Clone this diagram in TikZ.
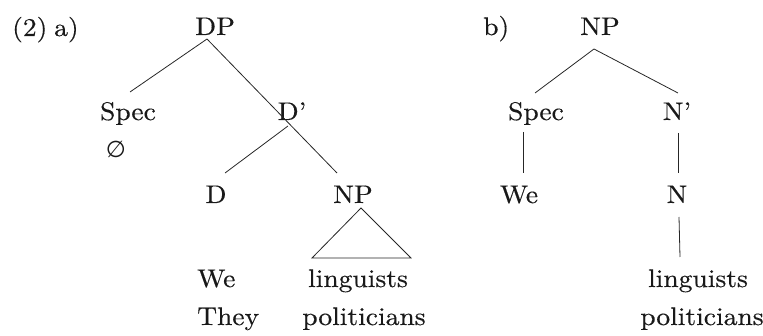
\documentclass[tikz,border=0pt]{standalone}
\usepackage{fontspec}
\setmainfont{lmroman10-regular.otf}[FakeStretch=1.08,FakeBold=0.4]
\newfontfamily\symfont{DejaVu Sans}
\begin{document}
\begin{tikzpicture}[x=1pt,y=-1pt,
  lbl/.style={inner sep=0pt,anchor=base,font=\fontsize{25.5}{30}\selectfont,text=black!90},
  edge/.style={line width=0.8pt,black!85}]
\useasboundingbox (0,0) rectangle (763,336);
% ---- a) ----
\node[lbl,anchor=base west] (ex) at (12,36) {(2)};
\node[lbl,anchor=base west] (la) at (54,36) {a)};
\node[lbl] (DP) at (215,35) {DP};
\node[lbl] (SpecA) at (128,120) {Spec};
\node[lbl,font=\symfont\fontsize{23}{26}\selectfont] (empty) at (116,158) {∅};
\node[lbl] (Dbar) at (292,120) {D’};
\node[lbl] (D) at (216,203) {D};
\node[lbl] (NPA) at (353,203) {NP};
\node[lbl,anchor=base west] (WeA) at (197,287) {We};
\node[lbl,anchor=base west] (They) at (197,325) {They};
\node[lbl] (lingA) at (358,287) {linguists};
\node[lbl] (polA) at (364,325) {politicians};
\coordinate (DPb) at (207,39);
\coordinate (SpecAt) at (130,92);
\coordinate (NPAt) at (337,173);
\coordinate (Dbarb) at (288,126);
\coordinate (Dt) at (225,173);
\coordinate (triA) at (361,208);
\coordinate (triL) at (312,258);
\coordinate (triR) at (411,258);
\draw[edge] (DPb) -- (SpecAt);
\draw[edge] (DPb) -- (NPAt);
\draw[edge] (Dbarb) -- (Dt);
\draw[edge,line join=miter] (triA) -- (triL) -- (triR) -- cycle;
% ---- b) ----
\node[lbl,anchor=base west] (lb) at (483,35) {b)};
\node[lbl] (NPB) at (600,35) {NP};
\node[lbl] (SpecB) at (536,120) {Spec};
\node[lbl] (Nbar) at (677,120) {N’};
\node[lbl] (WeB) at (519,203) {We};
\node[lbl] (N) at (677,203) {N};
\node[lbl] (lingB) at (698,287) {linguists};
\node[lbl] (polB) at (702,325) {politicians};
\coordinate (NPBb) at (594,49);
\coordinate (SpecBt) at (535,93);
\coordinate (Nbart) at (678,93);
\coordinate (SpecBb) at (523,132);
\coordinate (WeBt) at (523,173);
\coordinate (Nbarb) at (678,133);
\coordinate (Nt) at (678,173);
\coordinate (Nb) at (679,217);
\coordinate (lingBt) at (680,257);
\draw[edge] (NPBb) -- (SpecBt);
\draw[edge] (NPBb) -- (Nbart);
\draw[edge] (SpecBb) -- (WeBt);
\draw[edge] (Nbarb) -- (Nt);
\draw[edge] (Nb) -- (lingBt);
\end{tikzpicture}
\end{document}
